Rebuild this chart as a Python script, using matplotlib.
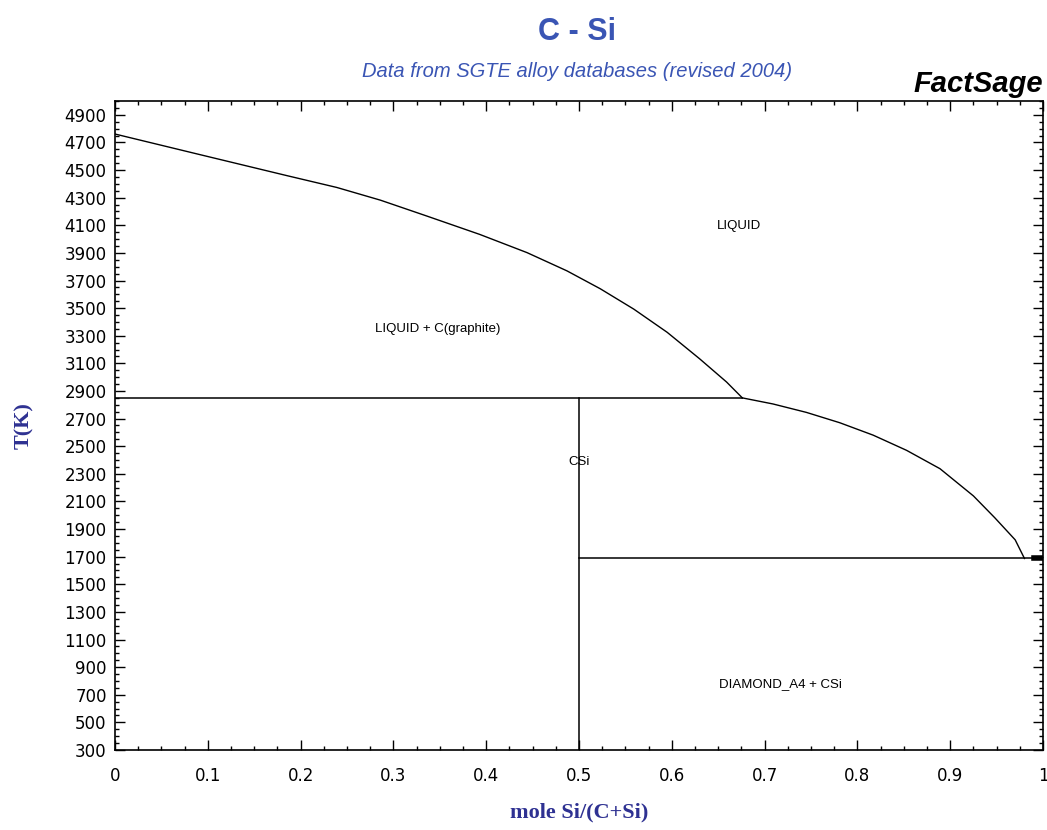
import matplotlib
matplotlib.use("Agg")
import matplotlib.pyplot as plt
from matplotlib.ticker import MultipleLocator

# liquidus in equilibrium with graphite
liq_c_x = [0.0, 0.092, 0.185, 0.239, 0.286, 0.336, 0.393, 0.444, 0.487, 0.523, 0.559, 0.595, 0.630, 0.659, 0.676]
liq_c_T = [4761, 4611, 4460, 4374, 4282, 4167, 4034, 3902, 3770, 3640, 3493, 3325, 3133, 2965, 2850]

# liquidus in equilibrium with CSi
liq_sic_x = [0.676, 0.709, 0.745, 0.781, 0.817, 0.853, 0.889, 0.925, 0.948, 0.970, 0.980]
liq_sic_T = [2850, 2806, 2745, 2670, 2580, 2470, 2337, 2140, 1982, 1822, 1687]

T_peritectic = 2850
T_eutectic = 1687
x_csi = 0.5

region_labels = ["LIQUID", "LIQUID + C(graphite)", "CSi", "DIAMOND_A4 + CSi"]
region_x = [0.672, 0.348, 0.5, 0.717]
region_T = [4092, 3349, 2383, 777]

navy = "#2e3192"
blue = "#3a55b4"

fig = plt.figure(figsize=(10.47, 8.30), dpi=100)
ax = fig.add_axes([0.1098, 0.0964, 0.8864, 0.7819])

ax.plot(liq_c_x, liq_c_T, color="black", lw=1.0)
ax.plot(liq_sic_x, liq_sic_T, color="black", lw=1.0)
ax.plot([0, liq_c_x[-1]], [T_peritectic, T_peritectic], color="black", lw=1.1)
ax.plot([x_csi, x_csi], [300, T_peritectic], color="black", lw=1.1)
ax.plot([x_csi, 1.0], [T_eutectic, T_eutectic], color="black", lw=1.1)
ax.plot([0.99, 1.0], [T_eutectic, T_eutectic], color="black", lw=4)

for lab, xx, tt in zip(region_labels, region_x, region_T):
    ax.text(xx, tt, lab, ha="center", va="center", fontsize=9.5,
            family="Liberation Sans")

ax.set_xlim(0, 1)
ax.set_ylim(300, 5000)
ax.xaxis.set_major_locator(MultipleLocator(0.1))
ax.xaxis.set_minor_locator(MultipleLocator(0.025))
ax.yaxis.set_minor_locator(MultipleLocator(50))
ax.set_yticks(range(300, 5000, 200))
ax.xaxis.set_major_formatter(plt.FuncFormatter(lambda v, p: "%g" % round(v, 2)))
ax.tick_params(which="both", direction="in", top=True, right=True, width=1.0)
ax.tick_params(which="major", length=7, labelsize=12, pad=6)
ax.tick_params(axis="x", which="major", pad=12)
ax.tick_params(which="minor", length=3)
for s in ax.spines.values():
    s.set_linewidth(1.2)

ax.set_xlabel("mole Si/(C+Si)", family="Liberation Serif", fontweight="bold",
              fontsize=16, color=navy, labelpad=13)
ax.set_ylabel("T(K)", family="Liberation Serif", fontweight="bold",
              fontsize=16, color=navy, labelpad=22)

fig.text(0.551, 0.979, "C - Si", ha="center", va="top", fontsize=22,
         fontweight="bold", color=blue, family="Liberation Sans")
fig.text(0.551, 0.925, "Data from SGTE alloy databases (revised 2004)", ha="center",
         va="top", fontsize=14.5, style="italic", color=blue, family="Liberation Sans")
fig.text(0.996, 0.882, "FactSage", ha="right", va="bottom", fontsize=21,
         fontweight="bold", style="italic", color="black", family="Liberation Sans")

fig.savefig("out.png", dpi=100)
